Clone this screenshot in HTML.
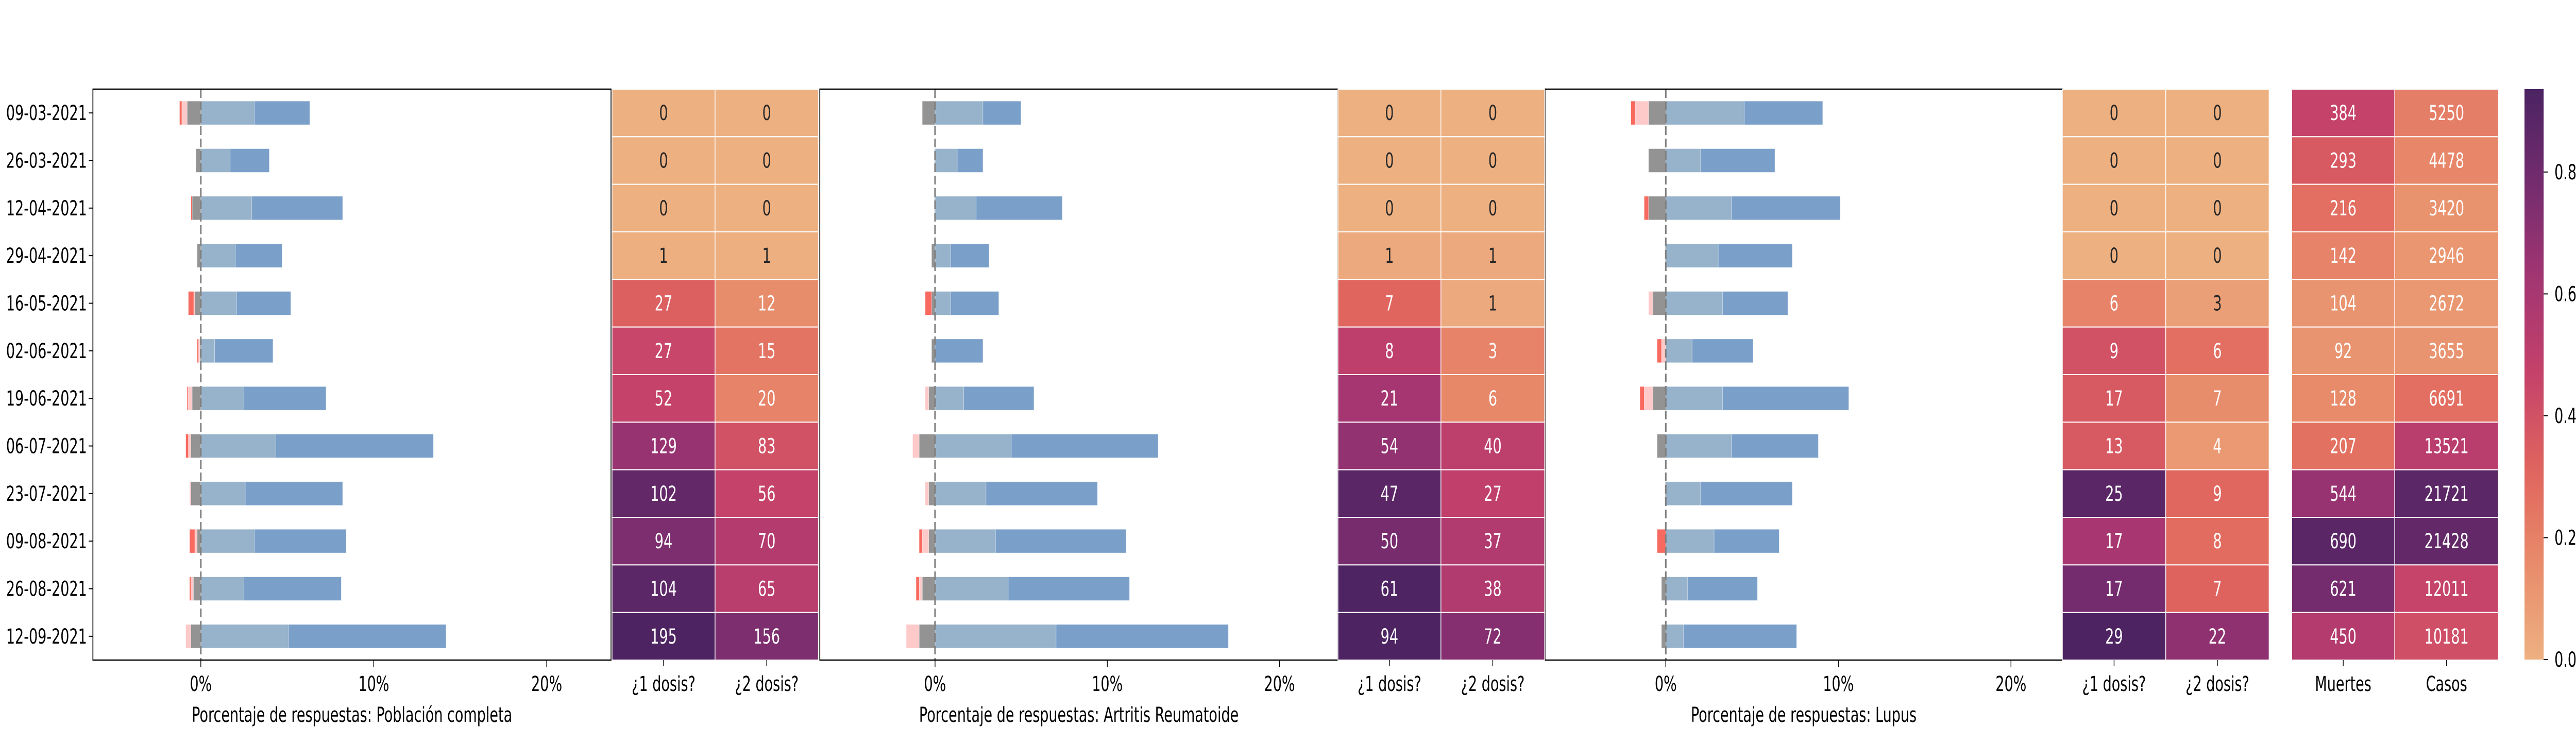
<!DOCTYPE html>
<html><head><meta charset="utf-8"><title>Encuesta vacunación</title>
<style>
html,body{margin:0;padding:0;background:#fff;width:100%;height:100%;overflow:hidden;}
svg{display:block;font-family:"DejaVu Sans","Liberation Sans",sans-serif;width:100vw;height:100vh;}
</style></head>
<body>
<svg id="chart" viewBox="0 0 7403 1440" preserveAspectRatio="none" xmlns="http://www.w3.org/2000/svg">
<rect x="0" y="0" width="7403" height="1440" fill="#fff"/>
</svg>
<script>
// ---------- DATA ----------
const dates = ["09-03-2021","26-03-2021","12-04-2021","29-04-2021","16-05-2021","02-06-2021","19-06-2021","06-07-2021","23-07-2021","09-08-2021","26-08-2021","12-09-2021"];
const xTicks = [0,10,20];
const xTickLabels = ["0%","10%","20%"];
// Panel 1: Población completa (segment widths, %)
const p1Light = [3.1,1.7,2.95,2.0,2.07,0.8,2.5,4.34,2.57,3.1,2.5,5.07];
const p1Dark  = [3.2,2.26,5.25,2.7,3.13,3.37,4.74,9.11,5.63,5.31,5.62,9.11];
const p1Gray  = [0.79,0.28,0.5,0.21,0.34,0.06,0.5,0.57,0.57,0.21,0.43,0.57];
const p1Pink  = [0.31,0,0,0,0.07,0.07,0.23,0.15,0.08,0.14,0.14,0.3];
const p1Red   = [0.13,0,0.07,0,0.31,0.08,0.06,0.15,0,0.3,0.08,0];
// Panel 2: Artritis Reumatoide
const p2Light = [2.78,1.29,2.39,0.92,0.92,0,1.67,4.43,2.96,3.51,4.25,7.03];
const p2Dark  = [2.21,1.49,5.0,2.22,2.78,2.78,4.07,8.52,6.47,7.58,7.04,10.0];
const p2Gray  = [0.74,0.03,0.03,0.2,0.2,0.2,0.37,0.92,0.37,0.37,0.74,0.92];
const p2Pink  = [0,0,0,0,0,0,0.2,0.38,0.2,0.37,0.18,0.75];
const p2Red   = [0,0,0,0,0.37,0,0,0,0,0.18,0.18,0];
// Panel 3: Lupus
const p3Light = [4.55,2.02,3.8,3.04,3.29,1.52,3.29,3.8,2.02,2.8,1.27,1.02];
const p3Dark  = [4.54,4.3,6.31,4.29,3.78,3.54,7.31,5.04,5.31,3.77,4.04,6.56];
const p3Gray  = [1.0,1.0,1.0,0.03,0.75,0,0.75,0.5,0.03,0,0.25,0.25];
const p3Pink  = [0.76,0,0,0,0.25,0.25,0.5,0,0,0,0,0];
const p3Red   = [0.26,0,0.25,0,0,0.25,0.25,0,0,0.5,0,0];
// Heatmaps: printed values and colour-scale values (0..0.936)
const h1Dose1 = [0,0,0,1,27,27,52,129,102,94,104,195];
const h1Dose1Shade = [0,0,0,0.005,0.33,0.45,0.47,0.66,0.85,0.75,0.87,0.93];
const h1Dose2 = [0,0,0,1,12,15,20,83,56,70,65,156];
const h1Dose2Shade = [0,0,0,0.005,0.15,0.25,0.19,0.40,0.47,0.55,0.52,0.75];
const h2Dose1 = [0,0,0,1,7,8,21,54,47,50,61,94];
const h2Dose1Shade = [0,0,0,0.03,0.31,0.5,0.61,0.68,0.88,0.77,0.92,0.93];
const h2Dose2 = [0,0,0,1,1,3,6,40,27,37,38,72];
const h2Dose2Shade = [0,0,0,0.03,0.03,0.19,0.17,0.51,0.49,0.56,0.56,0.72];
const h3Dose1 = [0,0,0,0,6,9,17,13,25,17,17,29];
const h3Dose1Shade = [0,0,0,0,0.19,0.40,0.36,0.36,0.88,0.60,0.78,0.93];
const h3Dose2 = [0,0,0,0,3,6,7,4,9,8,7,22];
const h3Dose2Shade = [0,0,0,0,0.075,0.27,0.15,0.1,0.30,0.28,0.32,0.69];
const deaths = [384,293,216,142,104,92,128,207,544,690,621,450];
const deathsShade = [0.47,0.36,0.27,0.19,0.12,0.12,0.16,0.26,0.66,0.88,0.78,0.55];
const cases = [5250,4478,3420,2946,2672,3655,6691,13521,21721,21428,12011,10181];
const casesShade = [0.21,0.18,0.13,0.11,0.105,0.12,0.27,0.52,0.87,0.85,0.46,0.41];
const cbarTicks = [0.0,0.2,0.4,0.6,0.8];
const cbarMax = 0.936;

// ---------- RENDER ----------
const NS = "http://www.w3.org/2000/svg";
const svg = document.getElementById("chart");
function mk(tag, attrs, parent){
  const e = document.createElementNS(NS, tag);
  for (const k in attrs) e.setAttribute(k, attrs[k]);
  (parent||svg).appendChild(e);
  return e;
}
const TOP = 173, BOTTOM = 1281;
const rowH = (BOTTOM - TOP) / dates.length;
const yCenter = i => TOP + rowH * (i + 0.5);
const BAR_H = 46;

const COL = {light:"#97b3cb", dark:"#7aa0ca", gray:"#939393", pink:"#fdc9c9", red:"#f8695f"};

const stops = [[0,[237,176,129]],[0.17,[232,139,106]],[0.33,[224,101,94]],[0.5,[197,66,106]],[0.67,[162,53,114]],[0.83,[117,44,110]],[1,[75,35,98]]];
function flare(t){
  t = Math.max(0, Math.min(1, t));
  for (let i=1;i<stops.length;i++){
    if (t <= stops[i][0]){
      const a = stops[i-1], b = stops[i], f = (t-a[0])/(b[0]-a[0]);
      return a[1].map((c,j)=>Math.round(c + (b[1][j]-c)*f));
    }
  }
  return stops[stops.length-1][1];
}
const rgb = c => `rgb(${c[0]},${c[1]},${c[2]})`;

dates.forEach((d,i)=>{
  const t = mk("text",{x:250,y:yCenter(i)+14,"text-anchor":"end","font-size":40,fill:"#000"});
  
  
  t.textContent = d;
  const tk = mk("line",{x1:255,x2:267,y1:yCenter(i),y2:yCenter(i),stroke:"#000","stroke-width":2});
  
  
});

const panels = [
  {name:"poblacion-completa", left:267, right:1756, domain:[-6.24,23.72], title:"Porcentaje de respuestas: Población completa", light:p1Light, dark:p1Dark, gray:p1Gray, pink:p1Pink, red:p1Red},
  {name:"artritis-reumatoide", left:2356, right:3845, domain:[-6.69,23.39], title:"Porcentaje de respuestas: Artritis Reumatoide", light:p2Light, dark:p2Dark, gray:p2Gray, pink:p2Pink, red:p2Red},
  {name:"lupus", left:4440, right:5927, domain:[-7.0,22.98], title:"Porcentaje de respuestas: Lupus", light:p3Light, dark:p3Dark, gray:p3Gray, pink:p3Pink, red:p3Red}
];

panels.forEach(p=>{
  const g = mk("g",{});
  
  
  const xs = v => p.left + (v - p.domain[0]) / (p.domain[1]-p.domain[0]) * (p.right - p.left);
  function seg(a,b,i,color,nm){
    if (Math.abs(b-a) < 1e-9) return;
    const r = mk("rect",{x:Math.min(xs(a),xs(b)),y:yCenter(i)-BAR_H/2,width:Math.abs(xs(b)-xs(a)),height:BAR_H,fill:color,stroke:"rgba(255,255,255,0.5)","stroke-width":1},g);
    
    
  }
  dates.forEach((d,i)=>{
    const l = p.light[i], dk = p.dark[i], gr = p.gray[i], pk = p.pink[i], rd = p.red[i];
    seg(0,l,i,COL.light,'bar-light');
    seg(l,l+dk,i,COL.dark,'bar-dark');
    seg(0,-gr,i,COL.gray,'bar-gray');
    seg(-gr,-gr-pk,i,COL.pink,'bar-pink');
    seg(-gr-pk,-gr-pk-rd,i,COL.red,'bar-red');
  });
  const zl = mk("line",{x1:xs(0),x2:xs(0),y1:TOP,y2:BOTTOM,stroke:"#808080","stroke-width":4.5,"stroke-dasharray":"17 7"},g);
  
  
  const sp = mk("rect",{x:p.left,y:TOP,width:p.right-p.left,height:BOTTOM-TOP,fill:"none",stroke:"#000","stroke-width":2.5},g);
  
  
  xTicks.forEach((t,k)=>{
    const tl = mk("line",{x1:xs(t),x2:xs(t),y1:BOTTOM,y2:BOTTOM+14,stroke:"#000","stroke-width":2},g);
    
    
    const tt = mk("text",{x:xs(t),y:1341,"text-anchor":"middle","font-size":40,fill:"#000"},g);
    
    
    tt.textContent = xTickLabels[k];
  });
  const xt = mk("text",{x:(p.left+p.right)/2,y:1401,"text-anchor":"middle","font-size":40,fill:"#000"},g);
  
  
  xt.textContent = p.title;
});

const heatmaps = [
  {name:"heatmap-poblacion", left:1759, mid:2055, right:2352, c1:h1Dose1, s1:h1Dose1Shade, c2:h1Dose2, s2:h1Dose2Shade, l1:"¿1 dosis?", l2:"¿2 dosis?"},
  {name:"heatmap-artritis", left:3845, mid:4141, right:4439, c1:h2Dose1, s1:h2Dose1Shade, c2:h2Dose2, s2:h2Dose2Shade, l1:"¿1 dosis?", l2:"¿2 dosis?"},
  {name:"heatmap-lupus", left:5927, mid:6224, right:6521, c1:h3Dose1, s1:h3Dose1Shade, c2:h3Dose2, s2:h3Dose2Shade, l1:"¿1 dosis?", l2:"¿2 dosis?"},
  {name:"heatmap-muertes-casos", left:6586, mid:6882, right:7180, c1:deaths, s1:deathsShade, c2:cases, s2:casesShade, l1:"Muertes", l2:"Casos"}
];
heatmaps.forEach(h=>{
  const g = mk("g",{});
  
  
  [[h.left,h.mid,h.c1,h.s1,h.l1],[h.mid,h.right,h.c2,h.s2,h.l2]].forEach(col=>{
    const [x0,x1,vals,shades,lab] = col;
    vals.forEach((v,i)=>{
      const c = flare(shades[i]/cbarMax);
      const r = mk("rect",{x:x0,y:TOP+rowH*i,width:x1-x0,height:rowH,fill:rgb(c),stroke:"#fff","stroke-width":2},g);
      
      
      const t = mk("text",{x:(x0+x1)/2,y:yCenter(i)+14,"text-anchor":"middle","font-size":40,fill: shades[i] > 0.09 ? "#fff" : "#262626"},g);
      
      
      t.textContent = v;
    });
    const tk = mk("line",{x1:(x0+x1)/2,x2:(x0+x1)/2,y1:BOTTOM,y2:BOTTOM+12,stroke:"#000","stroke-width":2},g);
    
    
    const tl = mk("text",{x:(x0+x1)/2,y:1341,"text-anchor":"middle","font-size":40,fill:"#000"},g);
    
    
    tl.textContent = lab;
  });
});

const defs = mk("defs",{});
const grad = mk("linearGradient",{id:"cbgrad",x1:0,y1:1,x2:0,y2:0},defs);
for (let k=0;k<=20;k++){
  const c = flare(k/20);
  mk("stop",{offset:(k/20),"stop-color":rgb(c)},grad);
}
const CB_L = 7255, CB_R = 7310, CB_TOP = 173, CB_BOT = 1280;
const cb = mk("rect",{x:CB_L,y:CB_TOP,width:CB_R-CB_L,height:CB_BOT-CB_TOP,fill:"url(#cbgrad)"});


const cy = v => CB_BOT - v/cbarMax*(CB_BOT-CB_TOP);
cbarTicks.forEach(t=>{
  const l = mk("line",{x1:CB_R,x2:CB_R+12,y1:cy(t),y2:cy(t),stroke:"#000","stroke-width":2});
  
  
  const tx = mk("text",{x:7341,y:cy(t)+14,"font-size":40,fill:"#000"});
  
  
  tx.textContent = t.toFixed(1);
});
</script>
</body></html>
